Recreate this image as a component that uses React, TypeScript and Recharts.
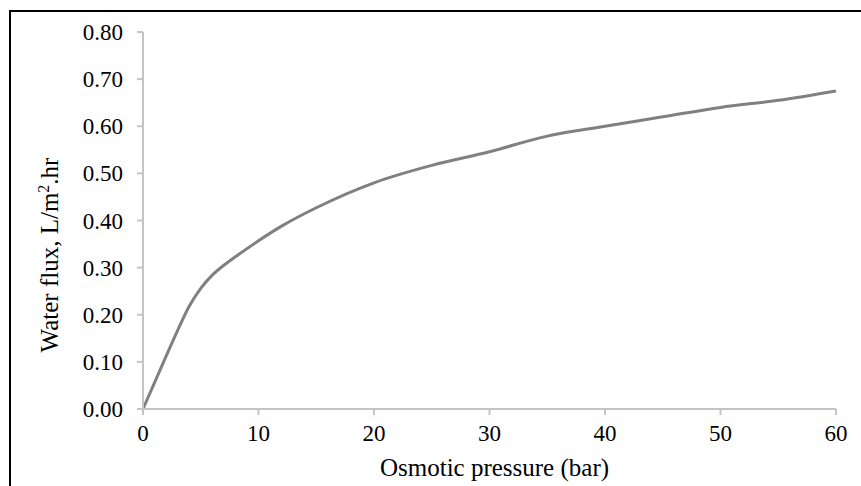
import { Line, LineChart, XAxis, YAxis } from 'recharts';

const PRESSURE = [0, 1, 2, 3, 4, 5, 6, 7, 8, 10, 12, 15, 20, 25, 30, 35, 40, 45, 50, 55, 60];
const FLUX = [0, 0.056, 0.112, 0.167, 0.218, 0.256, 0.284, 0.305, 0.323, 0.357, 0.388, 0.427, 0.48, 0.517, 0.546, 0.579, 0.6, 0.62, 0.64, 0.655, 0.675];
const X_TICKS = [0, 10, 20, 30, 40, 50, 60];
const Y_TICKS = [0, 0.1, 0.2, 0.3, 0.4, 0.5, 0.6, 0.7, 0.8];

const data = PRESSURE.map((p, i) => ({ p, flux: FLUX[i] }));

const FONT = '"Liberation Serif", "Times New Roman", serif';
const AXIS = '#c4c4c4';

function renderTick(props: any, bottom: boolean) {
  const { x, y, payload, textAnchor } = props;
  const label = bottom ? String(payload.value) : Number(payload.value).toFixed(2);
  return (
    <text
      x={x}
      y={y}
      dy={bottom ? 22 : 8}
      textAnchor={textAnchor}
      fill="#000"
      fontFamily="Liberation Serif"
      fontSize={23}
      style={{ fontFamily: FONT, fontSize: 23 }}
    >
      {label}
    </text>
  );
}

export default function App() {
  return (
    <div style={{ position: 'absolute', left: 0, top: 0, width: 861, height: 486, overflow: 'hidden', background: '#fff', fontFamily: FONT }}>
      {/* frame runs off the right/bottom edge in the reference */}
      <div
        style={{
          position: 'absolute',
          left: 9,
          top: 10,
          width: 900,
          height: 520,
          borderLeft: '2px solid #000',
          borderTop: '2px solid #000',
        }}
      />
      <LineChart
        width={861}
        height={486}
        data={data}
        margin={{ top: 32, right: 25, bottom: 0, left: 0 }}
        style={{ fontFamily: FONT }}
      >
        <XAxis
          dataKey="p"
          type="number"
          domain={[0, 60]}
          ticks={X_TICKS}
          height={77}
          stroke={AXIS}
          strokeWidth={2}
          tickSize={6}
          tickMargin={4}
          tick={(p: any) => renderTick(p, true)}
        />
        <YAxis
          type="number"
          domain={[0, 0.8]}
          ticks={Y_TICKS}
          width={143}
          stroke={AXIS}
          strokeWidth={2}
          tickSize={6}
          tickMargin={14}
          tick={(p: any) => renderTick(p, false)}
        />
        <Line type="monotone" dataKey="flux" stroke="#808080" strokeWidth={3} dot={false} isAnimationActive={false} />
      </LineChart>
      <div
        style={{
          position: 'absolute',
          left: 0,
          width: 989,
          top: 453,
          textAlign: 'center',
          fontSize: 25,
          lineHeight: '30px',
        }}
      >
        Osmotic pressure (bar)
      </div>
      <div
        style={{
          position: 'absolute',
          left: 50,
          top: 255,
          transform: 'translate(-50%, -50%) rotate(-90deg)',
          whiteSpace: 'nowrap',
          fontSize: 25,
          lineHeight: '30px',
        }}
      >
        Water flux, L/m<sup style={{ fontSize: 16, lineHeight: 0 }}>2</sup>.hr
      </div>
    </div>
  );
}
